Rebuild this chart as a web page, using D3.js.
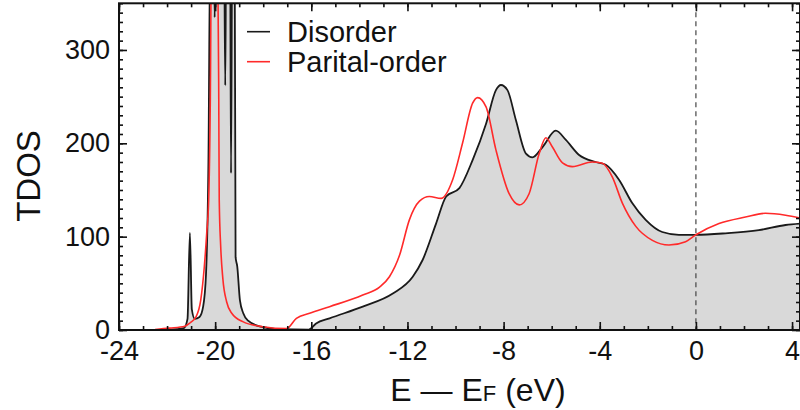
<!DOCTYPE html>
<html>
<head>
<meta charset="utf-8">
<script src="https://cdn.jsdelivr.net/npm/d3@7"></script>
<style>
  body { margin: 0; background: #fff; }
  svg { display: block; font-family: "Liberation Sans", Arial, Helvetica, sans-serif; }
</style>
</head>
<body>
<svg id="chart" width="800" height="410"></svg>
<script>
// Disorder (black, filled) : energy (eV) and TDOS
const disorderE = [-22.3, -21.6, -21.3, -21.15, -21.05, -20.97, -20.85, -20.65, -20.5, -20.38, -20.28, -20.2,
  -20.06, -20.02, -19.98, -19.63, -19.58, -19.54, -19.38, -19.34, -19.29, -19.19, -19.15, -19.08, -18.97,
  -18.83, -18.63, -18.1, -17.4, -16.1, -15.8, -15.24, -13.86, -12.61, -11.78, -11.37, -10.81, -10.39, -9.84,
  -9.29, -8.73, -8.32, -8.11, -7.84, -7.49, -7.07, -6.8, -6.38, -5.83, -5.41, -4.86, -4.17, -3.75, -3.2,
  -2.65, -2.09, -1.4, -0.71, 0, 1.23, 2.62, 3.73, 4.33];
const disorderDOS = [0, 0.8, 2, 12, 104, 22, 12, 14, 25, 60, 180, 420,
  420, 335, 420, 420, 262, 420, 420, 168, 420, 420, 78, 68, 32,
  18, 10, 3.5, 1, 0.5, 7, 12.5, 25, 39, 57, 75, 114, 143, 152,
  182, 221, 257, 262.5, 257, 225, 189, 185, 196, 213.5, 203.6, 187.5, 180, 177, 161,
  136, 118, 105, 102, 102, 103.6, 107, 112.5, 114];

// Parital-order (red line)
const partialE = [-22.5, -21.9, -21.26, -21.05, -20.8, -20.6, -20.45, -20.35, -20.27, -20.2, -20.15, -19.9,
  -19.85, -19.83, -19.77, -19.68, -19.52, -19.31, -18.85, -18.02, -17.03, -16.62, -16.07, -15.24, -13.86,
  -13.16, -12.75, -12.33, -11.92, -11.5, -11.09, -10.6, -10.12, -9.71, -9.29, -9.08, -8.73, -8.32, -7.77,
  -7.35, -6.94, -6.52, -6.24, -5.97, -5.55, -5.14, -4.31, -3.89, -3.48, -3.06, -2.5, -1.81, -1.12, -0.43,
  0, 0.96, 2.06, 2.89, 3.73, 4.33];
const partialDOS = [0.5, 2, 4, 7.5, 14, 32, 68, 104, 139, 250, 420, 420,
  250, 139, 90, 55, 30, 18, 9, 3.5, 1.5, 12.5, 18, 25, 37.5,
  46, 57, 80, 118, 138, 143, 141, 161, 200, 243, 249, 239, 193, 146,
  134, 146, 189, 206, 196, 179, 175, 180, 178.6, 164, 136, 111, 96, 91, 94.6,
  102, 114, 121, 125, 123, 120];

const xMajor = [-24, -20, -16, -12, -8, -4, 0, 4];
const yMajor = [0, 100, 200, 300];
const seriesNames = ['Disorder', 'Parital-order'];
const seriesColors = ['#1a1a1a', '#ff2a2a'];

const svg = d3.select('#chart');
const pLeft = 119, pRight = 800, pTop = 3.3, pBottom = 330;

const x = d3.scaleLinear().domain([-24, 4.33]).range([pLeft, pRight]);
const y = d3.scaleLinear().domain([0, 350]).range([pBottom, pTop]);

const disorder = disorderE.map((e, i) => [e, disorderDOS[i]]);
const partial = partialE.map((e, i) => [e, partialDOS[i]]);

svg.append('clipPath').attr('id', 'clip')
  .append('rect').attr('x', pLeft).attr('y', pTop).attr('width', pRight - pLeft).attr('height', pBottom - pTop);

const plot = svg.append('g').attr('clip-path', 'url(#clip)');

// grey area under disorder
plot.append('path')
  .datum(disorder)
  .attr('d', d3.area().curve(d3.curveMonotoneX).x(d => x(d[0])).y0(y(0)).y1(d => y(d[1])))
  .style('fill', '#d9d9d9');

// fermi level
plot.append('line')
  .attr('x1', x(0)).attr('x2', x(0)).attr('y1', pTop).attr('y2', pBottom)
  .style('stroke', '#444').style('stroke-width', 1.2).style('stroke-dasharray', '5,4');

const line = d3.line().curve(d3.curveMonotoneX).x(d => x(d[0])).y(d => y(d[1]));

plot.append('path').datum(disorder).attr('d', line)
  .style('fill', 'none').style('stroke', seriesColors[0]).style('stroke-width', 1.8);
plot.append('path').datum(partial).attr('d', line)
  .style('fill', 'none').style('stroke', seriesColors[1]).style('stroke-width', 1.6);

// axes - ticks point inward
const xMinor = d3.range(-24, 5, 1);
const yMinor = d3.range(0, 351, 10);
const fmt = d => String(d);

function styleAxis(g) {
  g.select('.domain').remove();
  g.selectAll('line').style('stroke', '#111').style('stroke-width', 1.6);
  g.selectAll('text').style('font-size', '27px').style('fill', '#111');
}

svg.append('g').attr('transform', `translate(0,${pBottom})`)
  .call(d3.axisBottom(x).tickValues(xMinor).tickSize(-4).tickFormat('')).call(styleAxis);
svg.append('g').attr('transform', `translate(0,${pBottom})`)
  .call(d3.axisBottom(x).tickValues(xMajor).tickSize(-8).tickPadding(11).tickFormat(fmt)).call(styleAxis);
svg.append('g').attr('transform', `translate(0,${pTop})`)
  .call(d3.axisTop(x).tickValues(xMinor).tickSize(-4).tickFormat('')).call(styleAxis);
svg.append('g').attr('transform', `translate(0,${pTop})`)
  .call(d3.axisTop(x).tickValues(xMajor).tickSize(-8).tickFormat('')).call(styleAxis);

svg.append('g').attr('transform', `translate(${pLeft},0)`)
  .call(d3.axisLeft(y).tickValues(yMinor).tickSize(-4).tickFormat('')).call(styleAxis);
svg.append('g').attr('transform', `translate(${pLeft},0)`)
  .call(d3.axisLeft(y).tickValues(yMajor).tickSize(-8).tickPadding(9).tickFormat(fmt)).call(styleAxis);
svg.append('g').attr('transform', `translate(${pRight},0)`)
  .call(d3.axisRight(y).tickValues(yMinor).tickSize(-4).tickFormat('')).call(styleAxis);
svg.append('g').attr('transform', `translate(${pRight},0)`)
  .call(d3.axisRight(y).tickValues(yMajor).tickSize(-8).tickFormat('')).call(styleAxis);

// frame
svg.append('rect')
  .attr('x', pLeft).attr('y', pTop).attr('width', pRight - pLeft).attr('height', pBottom - pTop)
  .style('fill', 'none').style('stroke', '#111').style('stroke-width', 2);

// legend
const legend = svg.append('g');
seriesNames.forEach((name, i) => {
  const ly = 31.7 + i * 30;
  legend.append('line')
    .attr('x1', 247).attr('x2', 270).attr('y1', ly).attr('y2', ly)
    .style('stroke', seriesColors[i]).style('stroke-width', 1.6);
  legend.append('text')
    .attr('x', 287).attr('y', ly + 10)
    .style('font-size', '29px').style('fill', '#111')
    .text(name);
});

// axis titles
svg.append('text')
  .attr('transform', 'translate(40,176) rotate(-90)')
  .attr('text-anchor', 'middle')
  .style('font-size', '33px').style('fill', '#111')
  .text('TDOS');

const xt = svg.append('text')
  .attr('x', 478).attr('y', 401)
  .attr('text-anchor', 'middle')
  .style('font-size', '32px').style('fill', '#111');
xt.append('tspan').text('E \u2014 E');
xt.append('tspan').style('font-size', '22px').text('F');
xt.append('tspan').text(' (eV)');
</script>
</body>
</html>
